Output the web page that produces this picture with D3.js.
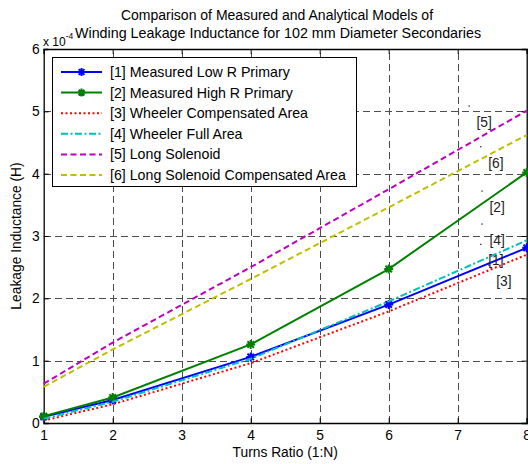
<!DOCTYPE html>
<html>
<head>
<meta charset="utf-8">
<script src="https://cdn.jsdelivr.net/npm/d3@7"></script>
<style>
  html, body { margin: 0; padding: 0; background: #fff; }
  svg { display: block; font-family: "Liberation Sans", Arial, Helvetica, sans-serif; }
</style>
</head>
<body>
<svg id="chart" width="528" height="464"></svg>
<script>
// Turns ratio N (1:N) sampled for every model
const turns = [1, 2, 4, 6, 8];

// Leakage inductance, in units of 1e-4 H
const measuredLowR   = [0.10, 0.37, 1.06, 1.90, 2.81];
const measuredHighR  = [0.11, 0.41, 1.26, 2.47, 4.02];
const wheelerComp    = [0.04, 0.30, 0.96, 1.79, 2.70];
const wheelerFull    = [0.07, 0.34, 1.03, 1.95, 2.93];
const longSolenoid   = [0.63, 1.29, 2.50, 3.75, 5.01];
const longSolComp    = [0.58, 1.18, 2.31, 3.46, 4.62];

const xTicks = [1, 2, 3, 4, 5, 6, 7, 8];
const yTicks = [0, 1, 2, 3, 4, 5, 6];

const seriesNames = [
  "[1] Measured Low R Primary",
  "[2] Measured High R Primary",
  "[3] Wheeler Compensated Area",
  "[4] Wheeler Full Area",
  "[5] Long Solenoid",
  "[6] Long Solenoid Compensated Area"
];

// In-plot tags: tag text and the anchor point (turns ratio, inductance)
const tagLabels = ["[5]", "[6]", "[2]", "[4]", "[1]", "[3]"];
const tagX = [7.164, 7.333, 7.351, 7.351, 7.333, 7.45];
const tagY = [5.086, 4.433, 3.722, 3.193, 2.867, 2.535];

const series = [
  { name: seriesNames[0], values: measuredLowR,  color: "#0000ff", dash: null,          marker: true },
  { name: seriesNames[1], values: measuredHighR, color: "#008000", dash: null,          marker: true },
  { name: seriesNames[2], values: wheelerComp,   color: "#ff0000", dash: "2,2.5",       marker: false },
  { name: seriesNames[3], values: wheelerFull,   color: "#00bfbf", dash: "7,2.5,2,2.5", marker: false },
  { name: seriesNames[4], values: longSolenoid,  color: "#bf00bf", dash: "6,3.5",       marker: false },
  { name: seriesNames[5], values: longSolComp,   color: "#bfbf00", dash: "6,3.5",       marker: false }
];

const FONT = "13.8px";
const svg = d3.select("#chart");
const plotLeft = 43.7, plotRight = 526.7, plotTop = 49, plotBottom = 423;

const x = d3.scaleLinear().domain([1, 8]).range([plotLeft, plotRight]);
const y = d3.scaleLinear().domain([0, 6]).range([plotBottom, plotTop]);

// grid
const grid = svg.append("g").attr("stroke", "#4d4d4d").attr("stroke-width", 1)
  .attr("stroke-dasharray", "7,4").attr("shape-rendering", "crispEdges");
grid.selectAll("line.v").data(xTicks.slice(1, -1)).join("line")
  .attr("x1", d => Math.round(x(d)) + 0.5).attr("x2", d => Math.round(x(d)) + 0.5)
  .attr("y1", plotBottom).attr("y2", plotTop);
grid.selectAll("line.h").data(yTicks.slice(1, -1)).join("line")
  .attr("y1", d => Math.round(y(d)) + 0.5).attr("y2", d => Math.round(y(d)) + 0.5)
  .attr("x1", plotLeft).attr("x2", plotRight);

// axes with inward ticks on all four sides
const tickLen = 5;
const xAxisB = d3.axisBottom(x).tickValues(xTicks).tickSize(-tickLen).tickPadding(7).tickFormat(d3.format("d"));
const xAxisT = d3.axisTop(x).tickValues(xTicks).tickSize(-tickLen).tickFormat("");
const yAxisL = d3.axisLeft(y).tickValues(yTicks).tickSize(-tickLen).tickPadding(4).tickFormat(d3.format("d"));
const yAxisR = d3.axisRight(y).tickValues(yTicks).tickSize(-tickLen).tickFormat("");

function styleAxis(g) {
  g.select(".domain").attr("stroke", "#000").attr("stroke-width", 1.3);
  g.selectAll(".tick line").attr("stroke", "#000");
  g.selectAll(".tick text").attr("fill", "#000").style("font-size", FONT)
    .style("font-family", '"Liberation Sans", Arial, sans-serif');
}
svg.append("g").attr("transform", `translate(0,${plotBottom})`).call(xAxisB).call(styleAxis);
svg.append("g").attr("transform", `translate(0,${plotTop})`).call(xAxisT).call(styleAxis);
svg.append("g").attr("transform", `translate(${plotLeft},0)`).call(yAxisL).call(styleAxis);
svg.append("g").attr("transform", `translate(${plotRight},0)`).call(yAxisR).call(styleAxis);

// asterisk marker
function asterisk(cx, cy, r) {
  const d = r * 0.72;
  return `M${cx - r},${cy}L${cx + r},${cy}M${cx},${cy - r}L${cx},${cy + r}` +
         `M${cx - d},${cy - d}L${cx + d},${cy + d}M${cx - d},${cy + d}L${cx + d},${cy - d}`;
}

const line = d3.line().x((d, i) => x(turns[i])).y(d => y(d));
const plot = svg.append("g");
// solenoid models underneath, measured curves and Wheeler models on top
const drawOrder = [4, 5, 2, 0, 1, 3];
drawOrder.forEach(k => {
  const s = series[k];
  plot.append("path").datum(s.values)
    .attr("fill", "none").attr("stroke", s.color).attr("stroke-width", 2)
    .attr("stroke-dasharray", s.dash).attr("d", line);
  if (s.marker) {
    plot.selectAll(null).data(s.values).join("path")
      .attr("d", (d, i) => asterisk(x(turns[i]), y(d), 4.5))
      .attr("stroke", s.color).attr("stroke-width", 2).attr("fill", "none");
  }
});

// in-plot tags
const tags = svg.append("g").style("font-size", FONT);
tagLabels.forEach((t, i) => {
  const px = x(tagX[i]), py = y(tagY[i]);
  tags.append("rect").attr("x", px - 0.5).attr("y", py - 0.5).attr("width", 1.2).attr("height", 1.2).attr("fill", "#000");
  tags.append("text").attr("x", px + 7.5).attr("y", py + 21).attr("fill", "#222").text(t);
});

// legend
const lg = svg.append("g");
lg.append("rect").attr("x", 52.5).attr("y", 57.5).attr("width", 304).attr("height", 129)
  .attr("fill", "#fff").attr("stroke", "#000").attr("stroke-width", 1);
series.forEach((s, i) => {
  const ly = 72 + i * 20.6;
  lg.append("line").attr("x1", 61).attr("x2", 102).attr("y1", ly).attr("y2", ly)
    .attr("stroke", s.color).attr("stroke-width", 2).attr("stroke-dasharray", s.dash);
  if (s.marker) {
    lg.append("path").attr("d", asterisk(81.5, ly, 4)).attr("stroke", s.color)
      .attr("stroke-width", 2).attr("fill", "none");
  }
  lg.append("text").attr("x", 110).attr("y", ly + 5).style("font-size", "14.2px")
    .attr("fill", "#000").text(s.name);
});

// titles and axis labels
const title = svg.append("g").attr("fill", "#000");
title.append("text").attr("x", 277).attr("y", 20).attr("text-anchor", "middle")
  .style("font-size", "14px").text("Comparison of Measured and Analytical Models of");
title.append("text").attr("x", 75).attr("y", 38).attr("text-anchor", "start")
  .style("font-size", "14.3px").text("Winding Leakage Inductance for 102 mm Diameter Secondaries");

// axis multiplier
const expo = svg.append("text").attr("x", 43).attr("y", 46).style("font-size", "12px");
expo.append("tspan").text("x 10");
expo.append("tspan").attr("dy", -7).style("font-size", "8.5px").text("-4");

svg.append("text").attr("x", x(4.5)).attr("y", 457).attr("text-anchor", "middle")
  .style("font-size", FONT).text("Turns Ratio (1:N)");
svg.append("text").attr("transform", `translate(21,${(plotTop + plotBottom) / 2}) rotate(-90)`)
  .attr("text-anchor", "middle").style("font-size", FONT).text("Leakage Inductance (H)");
</script>
</body>
</html>
